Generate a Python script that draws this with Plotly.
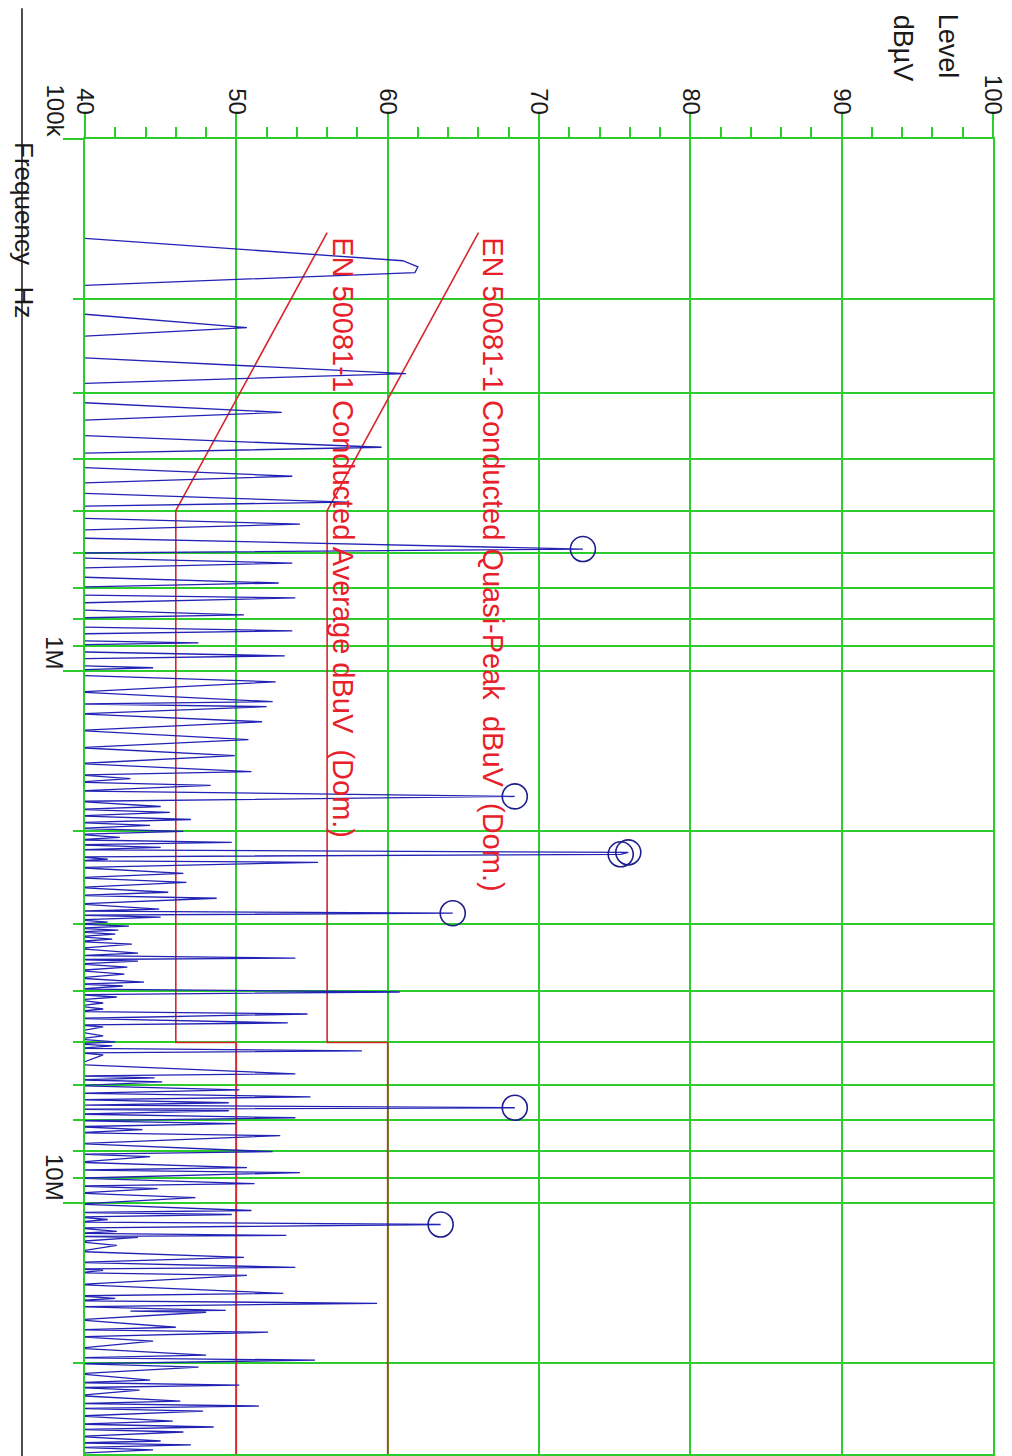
import math
import plotly.graph_objects as go

# Conducted emission scan, 150 kHz - 30 MHz (frequency in kHz, level in dBuV)
scan_khz = [
    153.4, 169.4, 173.9, 178.3, 188.7,
    213.0, 226.3, 235.2,
    257.6, 276.1, 288.3,
    312.8, 326.6, 338.1,
    360.8, 379.9, 389.9,
    414.2, 430.7, 443.9,
    463.5, 481.9, 490.3,
    516.4, 529.9, 543.9,
    563.0, 590.4, 600.7,
    613.8, 627.2, 640.9,
    666.3, 683.8, 695.7,
    720.2, 729.6, 745.5,
    768.4, 785.2, 795.4,
    827.0, 841.4, 852.4,
    878.5, 886.1, 893.8,
    921.3, 937.3, 949.6,
    978.6, 987.1, 995.7,
    1020, 1049, 1096, 1143, 1155, 1168, 1205, 1247, 1295, 1347, 1395, 1444,
    1495, 1547, 1570, 1595, 1620, 1643, 1683, 1723, 1760, 1800, 1823, 1847,
    1875, 1904, 1929, 1953, 1979, 2005, 2030, 2057, 2080, 2102, 2125, 2148,
    2172, 2195, 2214, 2238, 2262, 2277, 2292, 2345, 2404, 2450, 2499, 2555,
    2609, 2645, 2678, 2745, 2808, 2832, 2857, 2882, 2907, 2940, 2970, 2995,
    3022, 3048, 3075, 3100, 3128, 3162, 3197, 3230, 3267, 3330, 3396, 3433,
    3470, 3492, 3515, 3560, 3608, 3662, 3718, 3783, 3849, 3882, 3916, 3968,
    4019, 4065, 4107, 4160, 4215, 4270, 4326, 4372, 4420, 4505, 4595, 4635,
    4675, 4770, 4861, 4925, 4988, 5030, 5075, 5130, 5186, 5230, 5277, 5500,
    5728, 5778, 5828, 5878, 5929, 6030, 6138, 6230, 6326, 6410, 6492, 6560,
    6634, 6678, 6721, 6820, 6927, 7018, 7109, 7200, 7296, 7390, 7487, 7750,
    8023, 8110, 8199, 8400, 8597, 8690, 8785, 9000, 9213, 9310, 9414, 9600,
    9787, 10070, 10352, 10440, 10532, 10650, 10762, 10880, 10997, 11165, 11335, 11430,
    11532, 11580, 11632, 11840, 12041, 12360, 12682, 12960, 13242, 13330, 13415, 13560,
    13707, 14260, 14816, 14980, 15140, 15300, 15470, 15700, 15945, 16010, 16083, 16620,
    17160, 17350, 17534, 17880, 18230, 18800, 19366, 19580, 19789, 20090, 20397, 20990,
    21575, 21810, 22046, 22290, 22527, 23070, 23624, 23880, 24139, 24400, 24667, 25210,
    25757, 26100, 26433, 26720, 27010, 27540, 28082, 28320, 28570, 28880, 29194, 29600,
    30000,
]
scan_dbuv = [
    39.5, 61.0, 62.0, 61.8, 39.5,
    39.5, 50.7, 39.5,
    39.5, 61.2, 39.5,
    39.5, 53.0, 39.5,
    39.5, 59.6, 39.5,
    39.5, 53.7, 39.5,
    39.5, 57.3, 39.5,
    39.5, 54.2, 39.5,
    39.5, 72.9, 39.5,
    39.5, 53.7, 39.5,
    39.5, 52.8, 39.5,
    39.5, 53.9, 39.5,
    39.5, 50.5, 39.5,
    39.5, 53.7, 39.5,
    39.5, 47.5, 39.5,
    39.5, 53.2, 39.5,
    39.5, 44.5, 39.5,
    39.5, 52.6, 39.5, 52.4, 39.5, 52.0, 39.5, 51.7, 39.5, 50.8, 39.5, 49.9,
    39.5, 51.0, 39.5, 43.0, 39.5, 48.3, 39.5, 68.4, 39.5, 45.0, 39.5, 45.6,
    39.5, 47.0, 39.5, 44.3, 39.5, 46.5, 39.5, 42.3, 39.5, 49.7, 39.5, 45.0,
    39.5, 75.9, 75.4, 39.5, 41.5, 39.5, 55.4, 39.5, 46.5, 39.5, 46.7, 39.5,
    45.5, 39.5, 48.7, 39.5, 44.9, 39.5, 64.3, 39.5, 45.0, 39.5, 41.5, 39.5,
    42.9, 39.5, 42.2, 39.5, 42.0, 39.5, 41.8, 39.5, 43.1, 39.5, 43.5, 39.5,
    53.9, 39.5, 43.5, 39.5, 42.8, 39.5, 42.6, 39.5, 43.9, 39.5, 42.5, 39.5,
    60.8, 39.5, 42.1, 39.5, 41.2, 39.5, 41.2, 39.5, 54.7, 39.5, 53.4, 39.5,
    41.2, 39.5, 41.2, 39.5, 42.0, 39.5, 41.8, 39.5, 58.3, 39.5, 41.2, 39.5,
    53.9, 39.5, 44.6, 39.5, 45.1, 39.5, 50.2, 39.5, 54.9, 39.5, 49.5, 39.5,
    68.4, 39.5, 49.5, 39.5, 53.9, 39.5, 50.0, 39.5, 43.8, 39.5, 52.9, 39.5,
    52.4, 39.5, 44.3, 39.5, 50.7, 39.5, 54.2, 39.5, 51.2, 39.5, 44.8, 39.5,
    47.3, 39.5, 51.0, 39.5, 49.7, 39.5, 41.5, 39.5, 63.5, 39.5, 42.1, 39.5,
    53.3, 39.5, 43.5, 39.5, 42.1, 39.5, 50.5, 39.5, 53.9, 39.5, 41.2, 39.5,
    50.7, 39.5, 53.1, 39.5, 42.0, 39.5, 59.3, 39.5, 49.3, 43.0, 48.0, 39.5,
    46.0, 39.5, 52.1, 39.5, 44.5, 39.5, 48.0, 39.5, 55.2, 39.5, 47.5, 39.5,
    44.3, 39.5, 50.2, 39.5, 43.6, 39.5, 46.3, 39.5, 51.5, 39.5, 47.8, 39.5,
    45.8, 39.5, 48.5, 39.5, 46.5, 39.5, 45.0, 39.5, 47.0, 39.5, 44.5, 39.5,
    39.5,
]

# Quasi-peak final measurements
qp_khz = [590.4, 1723, 2195, 2214, 2857, 6634, 10997]
qp_dbuv = [72.9, 68.4, 75.9, 75.4, 64.3, 68.4, 63.5]

# EN 50081-1 conducted limits (domestic)
limit_qp_khz = [150, 500, 5000, 5000, 30000]
limit_qp_dbuv = [66, 56, 56, 60, 60]
limit_av_khz = [150, 500, 5000, 5000, 30000]
limit_av_dbuv = [56, 46, 46, 50, 50]

# Axis ticks
level_ticks = [40, 50, 60, 70, 80, 90, 100]
freq_major_khz = [100, 1000, 10000]
freq_major_text = ["100k", "1M", "10M"]
freq_minor_khz = [200, 300, 400, 500, 600, 700, 800, 900,
                  2000, 3000, 4000, 5000, 6000, 7000, 8000, 9000,
                  20000, 30000]

GREEN = "#2ccc2c"
RED = "#d8262a"
TEXT_RED = "#e8202a"
BLUE = "#2222b4"
FONT = "Liberation Sans, Arial, sans-serif"

fig = go.Figure()

fig.add_trace(go.Scatter(
    x=limit_qp_dbuv, y=limit_qp_khz, mode="lines",
    line=dict(color=RED, width=1.6), hoverinfo="skip",
))
fig.add_trace(go.Scatter(
    x=limit_av_dbuv, y=limit_av_khz, mode="lines",
    line=dict(color=RED, width=1.6), hoverinfo="skip",
))
fig.add_trace(go.Scatter(
    x=scan_dbuv, y=scan_khz, mode="lines",
    line=dict(color=BLUE, width=1.3),
))
fig.add_trace(go.Scatter(
    x=qp_dbuv, y=qp_khz, mode="markers",
    marker=dict(symbol="circle-open", size=25, color="#1e1e8c",
                line=dict(width=1.6, color="#1e1e8c")),
))

fig.update_xaxes(
    range=[40, 100], side="top",
    tickmode="array", tickvals=level_ticks,
    ticktext=[str(v) for v in level_ticks],
    tickangle=90, ticks="outside", ticklen=24, tickwidth=1.5, tickcolor=GREEN,
    tickfont=dict(size=24, family=FONT, color="#1a1a1a"),
    ticklabelstandoff=-10,
    showgrid=True, gridcolor=GREEN, gridwidth=1.5,
    showline=True, linecolor=GREEN, linewidth=1.5, mirror=True,
    zeroline=False,
    minor=dict(ticks="outside", ticklen=10, tickwidth=1.5, tickcolor=GREEN,
               dtick=2, showgrid=False),
)
fig.update_yaxes(
    type="log", range=[math.log10(29710), 2.0],
    tickmode="array", tickvals=freq_major_khz, showticklabels=False,
    ticks="outside", ticklen=20, tickwidth=1.5, tickcolor=GREEN,
    showgrid=True, gridcolor=GREEN, gridwidth=1.5,
    showline=True, linecolor=GREEN, linewidth=1.5, mirror=True,
    zeroline=False,
    minor=dict(tickmode="array", tickvals=freq_minor_khz, ticks="outside",
               ticklen=10, tickwidth=1.5, tickcolor=GREEN,
               showgrid=True, gridcolor=GREEN, gridwidth=1.5),
)

annotations = []
# frequency tick labels, each ending at its decade line
for f, t in zip(freq_major_khz, freq_major_text):
    annotations.append(dict(
        x=-0.033, xref="paper", y=math.log10(f), yref="y",
        text=t, textangle=90, showarrow=False,
        xanchor="center", yanchor="bottom",
        font=dict(size=24, family=FONT, color="#1a1a1a"),
    ))
# limit line captions
annotations.append(dict(
    x=67.0, xref="x", y=math.log10(151.4), yref="y",
    text="EN 50081-1 Conducted Quasi-Peak\u00a0 dBuV\u00a0 (Dom.)",
    textangle=90, showarrow=False, xanchor="center", yanchor="top",
    font=dict(size=29, family=FONT, color=TEXT_RED),
))
annotations.append(dict(
    x=57.05, xref="x", y=math.log10(151.4), yref="y",
    text="EN 50081-1 Conducted Average dBuV\u00a0 (Dom.)",
    textangle=90, showarrow=False, xanchor="center", yanchor="top",
    font=dict(size=29, family=FONT, color=TEXT_RED),
))
# axis titles
annotations.append(dict(
    x=-0.0672, xref="paper", y=0.9992, yref="paper",
    text="Frequency\u00a0\u00a0 Hz", textangle=90, showarrow=False,
    xanchor="center", yanchor="top",
    font=dict(size=26, family=FONT, color="#1a1a1a"),
))
annotations.append(dict(
    x=0.9504, xref="paper", y=1.0964, yref="paper",
    text="Level", textangle=90, showarrow=False,
    xanchor="center", yanchor="top",
    font=dict(size=27, family=FONT, color="#1a1a1a"),
))
annotations.append(dict(
    x=0.9009, xref="paper", y=1.0964, yref="paper",
    text="dBµV", textangle=90, showarrow=False,
    xanchor="center", yanchor="top",
    font=dict(size=27, family=FONT, color="#1a1a1a"),
))

fig.update_layout(
    width=1012, height=1456,
    margin=dict(l=85, r=19, t=139, b=0, pad=0),
    paper_bgcolor="white", plot_bgcolor="white",
    showlegend=False,
    annotations=annotations,
    shapes=[dict(type="line", xref="paper", yref="paper",
                 x0=-0.0694, x1=-0.0694, y0=-0.01, y1=1.0995,
                 line=dict(color="#222222", width=1.6), layer="below")],
)

fig.write_html("out.html")
